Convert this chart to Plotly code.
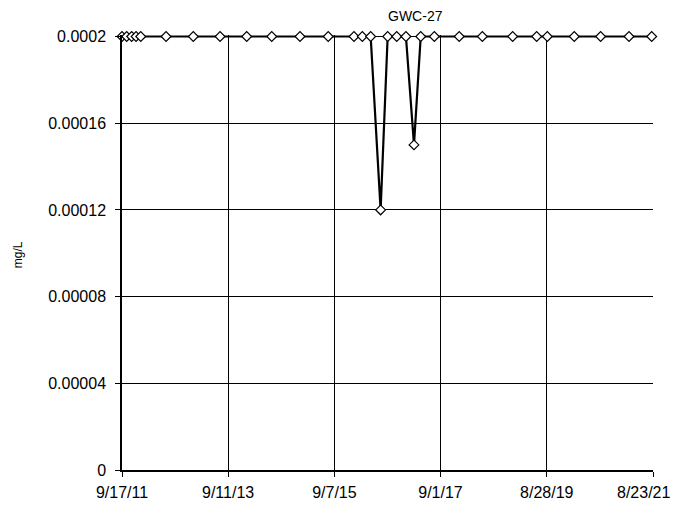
import plotly.graph_objects as go

dates = ["2011-09-17", "2011-10-19", "2011-11-22", "2011-12-22", "2012-01-23",
         "2012-07-14", "2013-01-16", "2013-07-18", "2014-01-16", "2014-07-06",
         "2015-01-15", "2015-07-27", "2016-01-19", "2016-03-16", "2016-05-12",
         "2016-07-19", "2016-09-05", "2016-11-06", "2017-01-08", "2017-03-04",
         "2017-04-19", "2017-07-21", "2018-01-07", "2018-06-14", "2019-01-07",
         "2019-06-20", "2019-09-01", "2020-03-03", "2020-08-30", "2021-03-12",
         "2021-08-14"]
values = [0.0002, 0.0002, 0.0002, 0.0002, 0.0002,
          0.0002, 0.0002, 0.0002, 0.0002, 0.0002,
          0.0002, 0.0002, 0.0002, 0.0002, 0.0002,
          0.00012, 0.0002, 0.0002, 0.0002, 0.00015,
          0.0002, 0.0002, 0.0002, 0.0002, 0.0002,
          0.0002, 0.0002, 0.0002, 0.0002, 0.0002,
          0.0002]

x_tickvals = ["2011-09-17", "2013-09-11", "2015-09-07", "2017-09-01", "2019-08-28", "2021-08-23"]
x_ticktext = ["9/17/11", "9/11/13", "9/7/15", "9/1/17", "8/28/19", "8/23/21"]
y_tickvals = [0, 0.00004, 0.00008, 0.00012, 0.00016, 0.0002]
y_ticktext = ["0", "0.00004", "0.00008", "0.00012", "0.00016", "0.0002"]

# page body has an 8px margin, so the figure is sized to fit the window without scrollbars
W, H = 673, 493
L, R, T, B = 114, 28, 26.5, 31

fig = go.Figure()
fig.add_trace(go.Scatter(
    x=dates, y=values, mode="lines+markers",
    line=dict(color="black", width=2.2),
    marker=dict(symbol="diamond", size=7.5, color="white",
                line=dict(color="black", width=1.2)),
    cliponaxis=False, showlegend=False,
))

# the last x tick label is drawn as a right-aligned text so it stays inside the window
shown_ticktext = x_ticktext[:-1] + [""]

fig.update_layout(
    width=W, height=H,
    margin=dict(l=L, r=R, t=T, b=B, autoexpand=False),
    paper_bgcolor="white", plot_bgcolor="white",
    font=dict(family="Liberation Sans, Arial, sans-serif", size=16, color="black"),
    xaxis=dict(
        type="date", range=["2011-09-17", "2021-08-23"],
        tickvals=x_tickvals, ticktext=shown_ticktext,
        showgrid=True, gridcolor="black", gridwidth=1,
        showline=True, linecolor="black", linewidth=2,
        ticks="outside", ticklen=5, tickcolor="black",
        zeroline=False, automargin=False,
        ticklabelstandoff=2,
        tickfont=dict(size=16),
    ),
    yaxis=dict(
        range=[0, 0.0002007],
        tickvals=y_tickvals, ticktext=y_ticktext,
        showgrid=True, gridcolor="black", gridwidth=1,
        showline=True, linecolor="black", linewidth=1.5,
        ticks="outside", ticklen=5, tickcolor="black",
        zeroline=False, automargin=False,
        ticklabelstandoff=6,
        tickfont=dict(size=16),
    ),
    annotations=[
        dict(text="GWC-27", x=407, y=H - 7, xref="paper", yref="paper",
             showarrow=False, font=dict(size=14), xanchor="center"),
        dict(text="mg/L", x=10, y=H - 247, xref="paper", yref="paper",
             showarrow=False, textangle=-90, font=dict(size=12), xanchor="center"),
        dict(text=x_ticktext[-1], x=664, y=H - 484.5, xref="paper", yref="paper",
             showarrow=False, font=dict(size=16), xanchor="right"),
    ],
)
# convert pixel annotation positions to paper coordinates
for a in fig.layout.annotations:
    a.x = (a.x - L) / (W - L - R)
    a.y = (a.y - B) / (H - T - B)
    a.yanchor = "middle"

fig.write_html("out.html")
